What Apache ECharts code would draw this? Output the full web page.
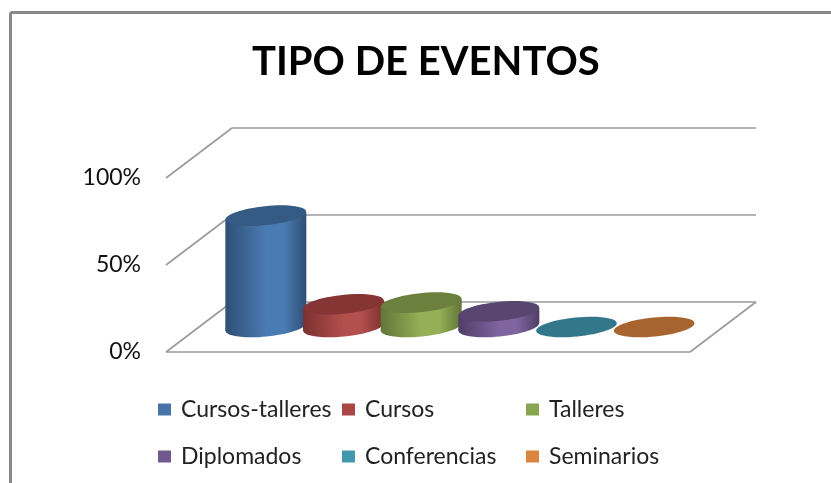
<!DOCTYPE html>
<html>
<head>
<meta charset="utf-8">
<style>html,body{margin:0;padding:0;background:#fff}#c{width:831px;height:483px}</style>
<script src="https://cdn.jsdelivr.net/npm/echarts@6/dist/echarts.min.js"></script>
</head>
<body>
<div id="c"></div>
<script>
const titleText = 'TIPO DE EVENTOS';
const categories = ['Cursos-talleres', 'Cursos', 'Talleres', 'Diplomados', 'Conferencias', 'Seminarios'];
const values = [64, 13, 14, 9, 0, 0];
const wallTicks = [0, 50, 100];
const legendColors = ['#4674a8', '#aa4643', '#89a54e', '#71588f', '#4198af', '#db843d'];
const topColors = ['#355a84', '#853534', '#6a803c', '#584570', '#33778a', '#a8642e'];
const edgeColors = ['#2f4f75', '#7a3130', '#627538', '#4f3e66', '#2d6a7a', '#945628'];
const midColors = ['#4a7bb3', '#b34f4c', '#94b057', '#7f64a0', '#4198af', '#db843d'];

const FONT = 'Lato, "Open Sans", sans-serif';
const DEPTH = { x: 66, y: -50 };
const RX = 40.5, RY = 9.5, TILT = 0.1, SLOPE = 4;

function renderFrame(params, api) {
  const cs = params.coordSys;
  const left = cs.x, right = cs.x + cs.width;
  const lines = [];
  const seg = (x1, y1, x2, y2) => lines.push({
    type: 'line', shape: { x1, y1, x2, y2 },
    style: { stroke: '#9a9a9a', lineWidth: 1.6 }, silent: true
  });
  wallTicks.forEach(v => {
    const y = api.coord([0, v])[1];
    seg(left, y, left + DEPTH.x, y + DEPTH.y);
    seg(left + DEPTH.x, y + DEPTH.y, right + DEPTH.x, y + DEPTH.y);
  });
  const y0 = api.coord([0, 0])[1];
  seg(left, y0, right, y0);
  seg(right, y0, right + DEPTH.x, y0 + DEPTH.y);
  return { type: 'group', children: lines };
}

function renderCylinder(idx) {
  return function (params, api) {
    const c = api.coord([api.value(0), api.value(1)]);
    const b = api.coord([api.value(0), 0]);
    const cx = c[0], topY = c[1], baseY = b[1];
    const bodyFill = {
      type: 'linear', x: 0, y: 0, x2: 1, y2: 0,
      colorStops: [
        { offset: 0, color: edgeColors[idx] },
        { offset: 0.5, color: midColors[idx] },
        { offset: 0.72, color: midColors[idx] },
        { offset: 1, color: edgeColors[idx] }
      ]
    };
    const children = [];
    if (baseY - topY > 0.5) {
      children.push({
        type: 'ellipse', shape: { cx, cy: baseY, rx: RX, ry: RY },
        rotation: TILT, originX: cx, originY: baseY,
        style: { fill: bodyFill }
      });
      children.push({
        type: 'polygon',
        shape: { points: [[cx - RX, topY + SLOPE], [cx + RX, topY - SLOPE], [cx + RX, baseY - SLOPE], [cx - RX, baseY + SLOPE]] },
        style: { fill: bodyFill }
      });
    }
    children.push({
      type: 'ellipse', shape: { cx, cy: topY, rx: RX, ry: RY },
      rotation: TILT, originX: cx, originY: topY,
      style: { fill: topColors[idx] }
    });
    return { type: 'group', children };
  };
}

const legendSpots = [[153, 393], [337, 393], [521, 393], [153, 440], [337, 440], [521, 440]];

const chart = echarts.init(document.getElementById('c'), null, { renderer: 'canvas' });
chart.setOption({
  animation: false,
  backgroundColor: '#fff',
  title: {
    text: titleText, left: 247, top: 37,
    textStyle: { fontFamily: FONT, fontSize: 40, fontWeight: 'bold', color: '#000' }
  },
  grid: [
    { left: 166, top: 178, width: 524, height: 174 },
    { left: 227, top: 153, width: 466, height: 174 }
  ],
  xAxis: [
    { gridIndex: 0, type: 'category', data: categories, show: false },
    { gridIndex: 1, type: 'category', data: categories, show: false }
  ],
  yAxis: [
    {
      gridIndex: 0, type: 'value', min: 0, max: 100, interval: 50,
      axisLine: { show: false }, axisTick: { show: false }, splitLine: { show: false },
      axisLabel: { margin: 25, formatter: '{value}%', fontFamily: FONT, fontSize: 23, color: '#111' }
    },
    { gridIndex: 1, type: 'value', min: 0, max: 100, interval: 50, show: false }
  ],
  legend: categories.map((name, i) => ({
    data: [name], left: legendSpots[i][0], top: legendSpots[i][1],
    icon: 'rect', itemWidth: 13, itemHeight: 12, selectedMode: false,
    textStyle: { fontFamily: FONT, fontSize: 23, color: '#222', padding: [0, 0, 0, 5] }
  })),
  graphic: [
    { type: 'line', shape: { x1: 10.5, y1: 12.5, x2: 831, y2: 12.5 }, style: { stroke: '#888', lineWidth: 3 } },
    { type: 'line', shape: { x1: 10.5, y1: 12.5, x2: 10.5, y2: 483 }, style: { stroke: '#888', lineWidth: 3 } }
  ],
  series: [
    {
      type: 'custom', name: '_frame', xAxisIndex: 0, yAxisIndex: 0, silent: true, z: 1,
      data: [[0, 0]], renderItem: renderFrame, clip: false
    }
  ].concat(categories.map((name, i) => ({
    type: 'custom', name, xAxisIndex: 1, yAxisIndex: 1, z: 2 + i, clip: false,
    itemStyle: { color: legendColors[i] },
    data: [[i, values[i]]],
    encode: { x: 0, y: 1 },
    renderItem: renderCylinder(i)
  })))
});
</script>
</body>
</html>
